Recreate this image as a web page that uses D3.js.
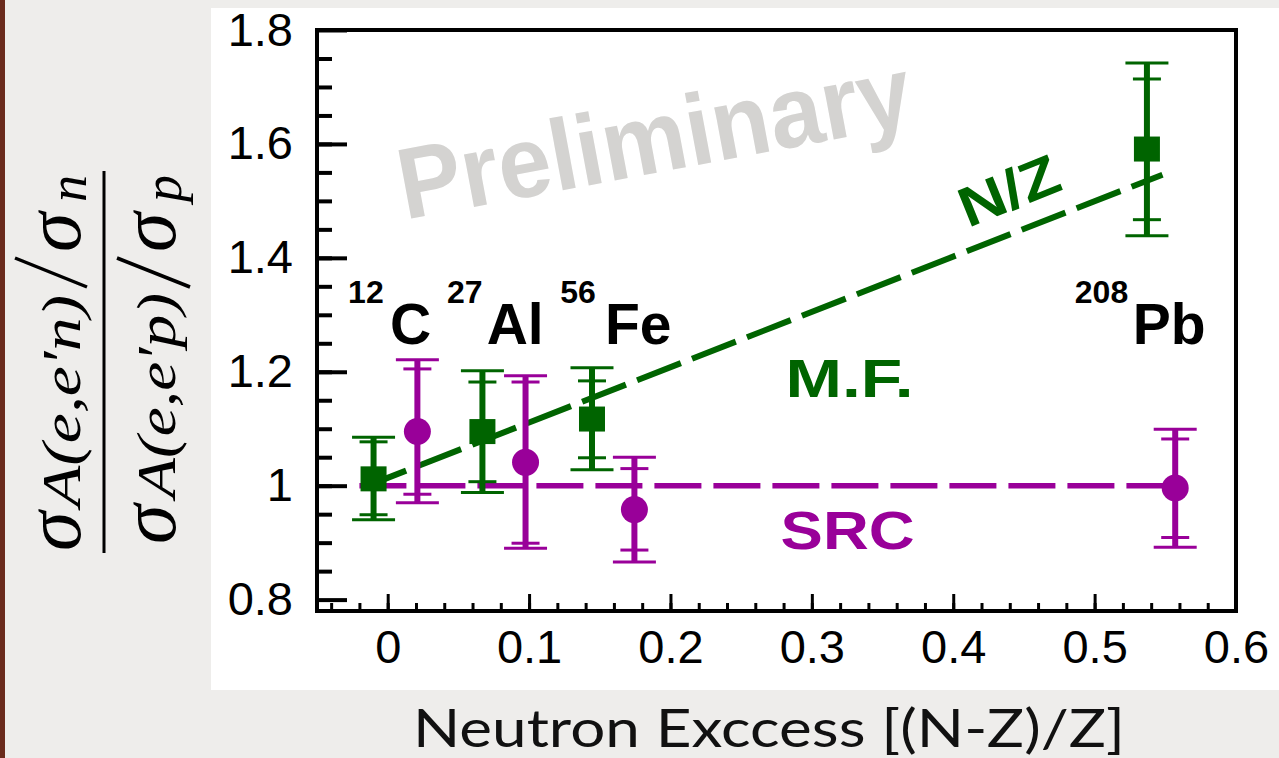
<!DOCTYPE html>
<html>
<head>
<meta charset="utf-8">
<script src="https://cdn.jsdelivr.net/npm/d3@7"></script>
<style>
  html, body { margin: 0; padding: 0; background: #eeedeb; }
  svg { display: block; }
</style>
</head>
<body>
<svg id="chart" width="1279" height="758"></svg>
<script>
// values
const xTicks = [0, 0.1, 0.2, 0.3, 0.4, 0.5, 0.6];
const xTickLabels = ["0", "0.1", "0.2", "0.3", "0.4", "0.5", "0.6"];
const yTicks = [0.8, 1.0, 1.2, 1.4, 1.6, 1.8];
const yTickLabels = ["0.8", "1", "1.2", "1.4", "1.6", "1.8"];

// M.F. (green squares)
const mfX = [-0.010, 0.067, 0.1445, 0.537];
const mfY = [1.012, 1.095, 1.117, 1.591];
const mfOuterHi = [1.085, 1.202, 1.207, 1.742];
const mfInnerHi = [1.077, 1.182, 1.184, 1.714];
const mfInnerLo = [0.949, 1.007, 1.049, 1.467];
const mfOuterLo = [0.940, 0.988, 1.028, 1.439];

// SRC (magenta circles)
const srcX = [0.021, 0.0975, 0.1745, 0.557];
const srcY = [1.095, 1.041, 0.958, 0.996];
const srcOuterHi = [1.221, 1.193, 1.050, 1.099];
const srcInnerHi = [1.205, 1.182, 1.030, 1.082];
const srcInnerLo = [0.985, 0.899, 0.887, 0.909];
const srcOuterLo = [0.970, 0.890, 0.866, 0.892];

// dashed expectation lines
const nzLineX = [-0.010, 0.548];
const nzLineY = [1.004, 1.546];
const srcLineX = [-0.02, 0.557];
const srcLineY = [1.0, 1.0];

// nucleus labels
const massNumbers = ["12", "27", "56", "208"];
const elements = ["C", "Al", "Fe", "Pb"];
const massX = [-0.028, 0.042, 0.122, 0.486];
const elemX = [0.0016, 0.070, 0.1537, 0.527];
const labelY = 1.249;

const green = "#006400";
const magenta = "#990099";

const svg = d3.select("#chart");

// page background pieces
svg.append("rect").attr("x", 0).attr("y", 0).attr("width", 1279).attr("height", 758).attr("fill", "#eeedeb");
svg.append("rect").attr("x", 0).attr("y", 0).attr("width", 5).attr("height", 758).attr("fill", "#6a2b1c");
svg.append("rect").attr("x", 211).attr("y", 8).attr("width", 1068).attr("height", 682).attr("fill", "#ffffff");

const x = d3.scaleLinear().domain([-0.05, 0.6]).range([317, 1236]);
const y = d3.scaleLinear().domain([0.78, 1.8]).range([611, 30]);

const axisFont = "'Liberation Sans', Arial, Helvetica, sans-serif";

// minor ticks
svg.append("g")
  .attr("transform", "translate(0,611)")
  .call(d3.axisBottom(x).tickValues(d3.range(-0.04, 0.59, 0.02)).tickSizeInner(-8).tickSizeOuter(0).tickFormat(""))
  .call(g => g.select(".domain").remove())
  .selectAll("line").attr("stroke-width", 3);

svg.append("g")
  .attr("transform", "translate(317,0)")
  .call(d3.axisLeft(y).tickValues(d3.range(0.85, 1.79, 0.05)).tickSizeInner(-15).tickSizeOuter(0).tickFormat(""))
  .call(g => g.select(".domain").remove())
  .selectAll("line").attr("stroke-width", 4);

// major ticks + labels
const xAxis = svg.append("g")
  .attr("transform", "translate(0,611)")
  .call(d3.axisBottom(x).tickValues(xTicks).tickFormat((d, i) => xTickLabels[i])
    .tickSizeInner(-17).tickSizeOuter(0).tickPadding(19));
xAxis.select(".domain").remove();
xAxis.selectAll("line").attr("stroke-width", 3);
xAxis.selectAll("text").attr("font-size", 47).attr("font-family", axisFont).attr("fill", "#000");

const yAxis = svg.append("g")
  .attr("transform", "translate(317,0)")
  .call(d3.axisLeft(y).tickValues(yTicks).tickFormat((d, i) => yTickLabels[i])
    .tickSizeInner(-30).tickSizeOuter(0).tickPadding(24));
yAxis.select(".domain").remove();
yAxis.selectAll("line").attr("stroke-width", 4);
yAxis.selectAll("text").attr("font-size", 47).attr("font-family", axisFont).attr("fill", "#000");

// frame
svg.append("rect")
  .attr("x", x(-0.05)).attr("y", y(1.8))
  .attr("width", x(0.6) - x(-0.05)).attr("height", y(0.78) - y(1.8))
  .attr("fill", "none").attr("stroke", "#000").attr("stroke-width", 4);

// watermark
svg.append("text")
  .attr("transform", `translate(${x(0.0122)},${y(1.4667)}) rotate(-10.6)`)
  .attr("font-family", axisFont).attr("font-weight", "bold").attr("font-size", 101)
  .attr("textLength", 520).attr("lengthAdjust", "spacingAndGlyphs")
  .attr("fill", "#d4d3d1")
  .text("Preliminary");

// dashed lines
const line = d3.line().x(d => x(d[0])).y(d => y(d[1]));

svg.append("path")
  .datum(d3.zip(srcLineX, srcLineY))
  .attr("d", line).attr("fill", "none")
  .attr("stroke", magenta).attr("stroke-width", 5.5)
  .attr("stroke-dasharray", "47,12");

svg.append("path")
  .datum(d3.zip(nzLineX, nzLineY))
  .attr("d", line).attr("fill", "none")
  .attr("stroke", green).attr("stroke-width", 6)
  .attr("stroke-dasharray", "47,12").attr("stroke-dashoffset", 12);

// error bars with two caps at each end
function drawErrors(xs, outerHi, innerHi, innerLo, outerLo, color) {
  const g = svg.append("g").attr("stroke", color);
  g.selectAll(".bar").data(xs).enter().append("line")
    .attr("x1", d => x(d)).attr("x2", d => x(d))
    .attr("y1", (d, i) => y(outerHi[i])).attr("y2", (d, i) => y(outerLo[i]))
    .attr("stroke-width", 6);
  [[outerHi, 21.5], [innerHi, 14], [innerLo, 14], [outerLo, 21.5]].forEach(([vals, hw]) => {
    g.selectAll(null).data(xs).enter().append("line")
      .attr("x1", d => x(d) - hw).attr("x2", d => x(d) + hw)
      .attr("y1", (d, i) => y(vals[i])).attr("y2", (d, i) => y(vals[i]))
      .attr("stroke-width", 3);
  });
}

drawErrors(mfX, mfOuterHi, mfInnerHi, mfInnerLo, mfOuterLo, green);
svg.append("g").selectAll("rect").data(mfX).enter().append("rect")
  .attr("x", d => x(d) - 13).attr("y", (d, i) => y(mfY[i]) - 12.5)
  .attr("width", 26).attr("height", 25)
  .attr("fill", green);

drawErrors(srcX, srcOuterHi, srcInnerHi, srcInnerLo, srcOuterLo, magenta);
svg.append("g").selectAll("circle").data(srcX).enter().append("circle")
  .attr("cx", d => x(d)).attr("cy", (d, i) => y(srcY[i]))
  .attr("r", 13.5).attr("fill", magenta);

// nucleus labels
const labels = svg.append("g").attr("font-family", axisFont).attr("font-weight", "bold").attr("fill", "#000");
labels.selectAll(".mass").data(massNumbers).enter().append("text")
  .attr("x", (d, i) => x(massX[i])).attr("y", y(labelY) - 41)
  .attr("font-size", 32).text(d => d);
labels.selectAll(".elem").data(elements).enter().append("text")
  .attr("x", (d, i) => x(elemX[i])).attr("y", y(labelY))
  .attr("font-size", 57).text(d => d);

// curve labels
svg.append("text")
  .attr("x", x(0.3267)).attr("y", y(1.156)).attr("text-anchor", "middle")
  .attr("font-family", axisFont).attr("font-weight", "bold").attr("font-size", 54)
  .attr("textLength", 128).attr("lengthAdjust", "spacingAndGlyphs")
  .attr("fill", green).text("M.F.");
svg.append("text")
  .attr("x", x(0.3253)).attr("y", y(0.888)).attr("text-anchor", "middle")
  .attr("font-family", axisFont).attr("font-weight", "bold").attr("font-size", 54)
  .attr("textLength", 134).attr("lengthAdjust", "spacingAndGlyphs")
  .attr("fill", magenta).text("SRC");
svg.append("text")
  .attr("transform", `translate(${x(0.4105)},${y(1.4526)}) rotate(-22)`)
  .attr("font-family", axisFont).attr("font-weight", "bold").attr("font-size", 56)
  .attr("textLength", 104).attr("lengthAdjust", "spacingAndGlyphs")
  .attr("fill", green).text("N/Z");

// x title
svg.append("text")
  .attr("x", 413).attr("y", 747)
  .attr("font-family", "Lato, 'Open Sans', sans-serif").attr("font-size", 53)
  .attr("textLength", 712).attr("lengthAdjust", "spacingAndGlyphs")
  .attr("fill", "#111").text("Neutron Exccess [(N-Z)/Z]");

// y title: rotated fraction
const serif = "'Liberation Serif', 'Times New Roman', serif";
const yl = svg.append("g").attr("transform", "translate(104,362) rotate(-90)")
  .attr("font-family", serif).attr("font-style", "italic").attr("fill", "#000");
yl.append("line").attr("x1", -191).attr("x2", 191).attr("y1", 0).attr("y2", 0)
  .attr("stroke", "#000").attr("stroke-width", 3);
// big solidus of each "/σ" part
[[-17, -89], [86, 13]].forEach(([y0, y1]) => {
  yl.append("line").attr("x1", 75).attr("y1", y0).attr("x2", 104).attr("y2", y1)
    .attr("stroke", "#000").attr("stroke-width", 3.5);
});

const parts = [
  // [text, x, baseline, size, length]
  ["σ", -189, -24, 80, null],
  ["A(e,e′n)", -145, -24, 54, 212],
  ["σ", 110, -24, 80, null],
  ["n", 160, -18, 54, null],
  ["σ", -182, 71, 80, null],
  ["A(e,e′p)", -136, 71, 54, 205],
  ["σ", 110, 71, 80, null],
  ["p", 160, 77, 54, null]
];
parts.forEach(p => {
  const t = yl.append("text").attr("x", p[1]).attr("y", p[2]).attr("font-size", p[3]).text(p[0]);
  if (p[4]) t.attr("textLength", p[4]).attr("lengthAdjust", "spacingAndGlyphs");
});
</script>
</body>
</html>
